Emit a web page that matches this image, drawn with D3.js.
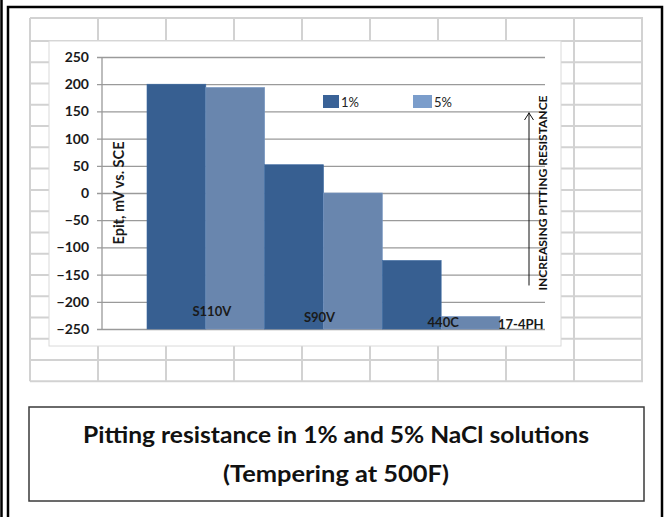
<!DOCTYPE html>
<html>
<head>
<meta charset="utf-8">
<script src="https://cdn.jsdelivr.net/npm/d3@7"></script>
<style>
  body { margin: 0; background: #fff; }
  text { font-family: Lato, "Open Sans", sans-serif; }
</style>
</head>
<body>
<div id="chart"></div>
<script>
// chart values
var categories = ["S110V", "S90V", "440C"];
var seriesNames = ["1%", "5%"];
var nacl1 = [200, 52, -124];
var nacl5 = [194, 0, -227];
var materialLabels = ["S110V", "S90V", "440C", "17-4PH"];
var yTicks = [250, 200, 150, 100, 50, 0, -50, -100, -150, -200, -250];
var yTitle = "Epit, mV vs. SCE";
var arrowNote = "INCREASING  PITTING  RESISTANCE";
var captionLines = ["Pitting resistance in 1% and 5% NaCl solutions", "(Tempering at 500F)"];

var colors = { "1%": "#375f91", "5%": "#6986ae" };
var legendColors = { "1%": "#3a6297", "5%": "#7b9dcb" };

var W = 667, H = 517;
var svg = d3.select("#chart").append("svg")
  .attr("width", W).attr("height", H);

// spreadsheet cells behind the chart
var colX = d3.range(30, 644, 68);
var rowY = [18].concat(d3.range(17).map(function (k) { return 41 + k * 21.27; }));
var cells = svg.append("g").attr("stroke", "#d2d2d2").attr("stroke-width", 2);
cells.selectAll(".row").data(rowY).enter().append("line")
  .attr("x1", 30).attr("x2", 643).attr("y1", d => d).attr("y2", d => d);
cells.selectAll(".col").data(colX).enter().append("line")
  .attr("x1", d => d).attr("x2", d => d).attr("y1", 18).attr("y2", rowY[rowY.length - 1]);

// chart area
svg.append("rect")
  .attr("x", 49).attr("y", 41).attr("width", 512).attr("height", 305)
  .attr("fill", "#fff").attr("stroke", "#dadada").attr("stroke-width", 1);

var y = d3.scaleLinear().domain([-250, 250]).range([329, 57]);
var x = d3.scaleBand().domain(categories).range([147, 500]).padding(0);
var xs = d3.scaleBand().domain(seriesNames).range([0, x.bandwidth()]).padding(0);

// gridlines + y axis
var yAxis = svg.append("g")
  .attr("transform", "translate(102,0)")
  .call(d3.axisLeft(y).tickValues(yTicks).tickSize(-443).tickSizeOuter(0).tickPadding(13));
yAxis.select(".domain").remove();
yAxis.selectAll(".tick line").attr("stroke", "#9a9a9a").attr("stroke-width", 1.3).attr("x1", -5);
yAxis.selectAll(".tick text")
  .attr("font-family", "Lato, sans-serif").attr("font-size", 14).attr("font-weight", "bold")
  .attr("fill", "#1a1a1a");
svg.append("line")
  .attr("x1", 102).attr("x2", 102).attr("y1", y(250)).attr("y2", y(-250))
  .attr("stroke", "#9a9a9a").attr("stroke-width", 1.3);

svg.append("text")
  .attr("transform", "translate(124," + ((y(250) + y(-250)) / 2) + ") rotate(-90)")
  .attr("text-anchor", "middle")
  .attr("font-size", 14.5).attr("font-weight", "bold").attr("fill", "#1a1a1a")
  .text(yTitle);

// bars
var rows = [];
categories.forEach(function (c, i) {
  rows.push({ cat: c, series: "1%", value: nacl1[i] });
  rows.push({ cat: c, series: "5%", value: nacl5[i] });
});
svg.append("g").selectAll("rect").data(rows).enter().append("rect")
  .attr("x", d => x(d.cat) + xs(d.series))
  .attr("y", d => y(d.value))
  .attr("width", xs.bandwidth())
  .attr("height", d => y(-250) - y(d.value))
  .attr("fill", d => colors[d.series])
  .attr("stroke", d => d3.color(colors[d.series]).brighter(0.3))
  .attr("stroke-width", 0.6);

// material text labels sitting on the bars
var labelNudge = [[6, 13], [-4, 7], [2, 2], [0, 0]];
svg.append("g").selectAll("text").data(materialLabels).enter().append("text")
  .attr("x", function (d, i) {
    if (i < categories.length) return x(categories[i]) + x.bandwidth() / 2 + labelNudge[i][0];
    return x.range()[1] - 2;
  })
  .attr("y", (d, i) => y(-250) - labelNudge[i][1])
  .attr("text-anchor", (d, i) => i < categories.length ? "middle" : "start")
  .attr("font-size", 13).attr("font-weight", "bold").attr("fill", "#1a1a1a")
  .text(d => d);

// legend
var legend = svg.append("g").selectAll("g").data(seriesNames).enter().append("g")
  .attr("transform", (d, i) => "translate(" + (323 + i * 90) + ",95)");
legend.append("rect")
  .attr("width", (d, i) => i ? 19 : 16).attr("height", 13)
  .attr("fill", d => legendColors[d]);
legend.append("text")
  .attr("x", (d, i) => i ? 21 : 18).attr("y", 12)
  .attr("font-size", 13).attr("fill", "#222")
  .text(d => d);

// increasing arrow with note
var arrow = svg.append("g").attr("stroke", "#111").attr("stroke-width", 1).attr("fill", "none");
arrow.append("line").attr("x1", 529).attr("x2", 529).attr("y1", y(150) + 1).attr("y2", y(-170));
arrow.append("path").attr("d", "M524.5,120 L529,113 L533.5,120");
svg.append("text")
  .attr("transform", "translate(547," + y(0) + ") rotate(-90)")
  .attr("text-anchor", "middle")
  .attr("font-size", 11.5).attr("font-weight", "bold").attr("fill", "#111")
  .attr("textLength", 195).attr("lengthAdjust", "spacingAndGlyphs")
  .text(arrowNote);

// caption box
svg.append("rect")
  .attr("x", 29).attr("y", 407).attr("width", 615).attr("height", 94)
  .attr("fill", "none").attr("stroke", "#3a3a3a").attr("stroke-width", 1.5);
var capLen = [506, 226];
svg.append("g").selectAll("text").data(captionLines).enter().append("text")
  .attr("x", 336).attr("y", (d, i) => 443 + i * 39)
  .attr("text-anchor", "middle")
  .attr("font-size", 22).attr("font-weight", "bold").attr("fill", "#111")
  .attr("textLength", (d, i) => capLen[i]).attr("lengthAdjust", "spacingAndGlyphs")
  .text(d => d);

// outer frame
svg.append("line").attr("x1", 1.5).attr("x2", 1.5).attr("y1", 0).attr("y2", H)
  .attr("stroke", "#000").attr("stroke-width", 2.5);
svg.append("rect").attr("x", 8).attr("y", 7).attr("width", 654).attr("height", H + 10)
  .attr("fill", "none").attr("stroke", "#000").attr("stroke-width", 2.5);
</script>
</body>
</html>
